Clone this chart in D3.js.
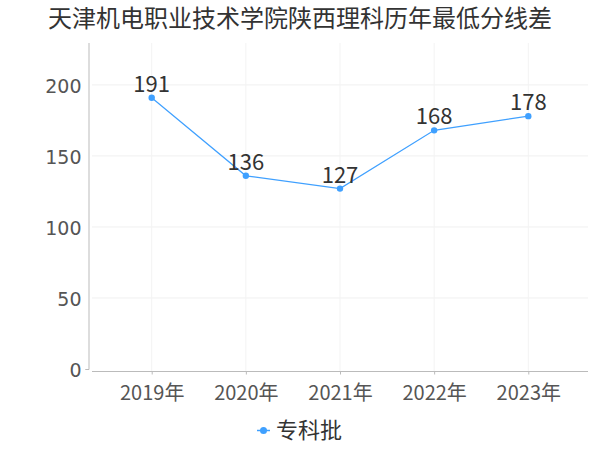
<!DOCTYPE html>
<html><head><meta charset="utf-8">
<script src="https://cdn.jsdelivr.net/npm/d3@7"></script>
<style>body{margin:0;background:#fff}svg{display:block}</style>
</head><body>
<svg id="c" width="600" height="450"></svg>
<script>
const title = "天津机电职业技术学院陕西理科历年最低分线差";
const categories = ["2019年","2020年","2021年","2022年","2023年"];
const seriesName = "专科批";
const values = [191,136,127,168,178];
const yTicks = [0,50,100,150,200];

const svg = d3.select("#c");
const color = "#3fa0ff";
const FF = "Noto Sans CJK SC, Noto Sans, sans-serif";
const FD = "DejaVu Sans, Verdana, sans-serif";
const x = d3.scalePoint().domain(categories).range([92,588]).padding(0.634);
const y = d3.scaleLinear().domain([0,229.5]).range([369,43]);

svg.append("text").attr("x",300).attr("y",27).attr("text-anchor","middle")
  .attr("font-family",FF).attr("font-size",24).attr("fill","#333").text(title);

// grid
const g = svg.append("g");
g.selectAll(".hg").data(yTicks.slice(1)).join("line")
  .attr("x1",92).attr("x2",588).attr("y1",d=>y(d)).attr("y2",d=>y(d))
  .attr("stroke","#f0f0f0");
g.selectAll(".vg").data(categories).join("line")
  .attr("x1",d=>x(d)).attr("x2",d=>x(d)).attr("y1",43).attr("y2",371)
  .attr("stroke","#f3f3f3");

// y axis
const ya = svg.append("g").attr("transform","translate(88.5,0)")
  .call(d3.axisLeft(y).tickValues(yTicks).tickSize(3).tickPadding(4));
ya.attr("font-family",FD).attr("font-size",19);
ya.select(".domain").attr("stroke","#bbb").attr("d","M-3,369.5H0.5V43");
ya.selectAll(".tick line").attr("stroke","#bbb").attr("x2",-3).attr("x1",0).filter(d=>d!==0).remove();
ya.selectAll("text").attr("fill","#555").attr("dy","0.4em");

// x axis
const xa = svg.append("g").attr("transform","translate(0,371.5)")
  .call(d3.axisBottom(x).tickSize(3));
xa.attr("font-family",FF).attr("font-size",20);
xa.select(".domain").attr("stroke","#bbb").attr("d","M92,0H588");
xa.selectAll(".tick line").attr("stroke","#bbb");
xa.selectAll("text").attr("fill","#555").attr("y",28).attr("dy",0);

// line
svg.append("path").datum(values)
  .attr("d",d3.line().x((d,i)=>x(categories[i])).y(d=>y(d)))
  .attr("fill","none").attr("stroke",color).attr("stroke-width",1.2);
svg.selectAll(".pt").data(values).join("circle")
  .attr("cx",(d,i)=>x(categories[i])).attr("cy",d=>y(d)).attr("r",3.2).attr("fill",color);
svg.selectAll(".lb").data(values).join("text")
  .attr("x",(d,i)=>x(categories[i])).attr("y",d=>y(d)-6)
  .attr("text-anchor","middle").attr("font-family",FF).attr("font-size",22).attr("fill","#333").text(d=>d);

// legend
svg.append("line").attr("x1",257).attr("x2",270).attr("y1",430.5).attr("y2",430.5).attr("stroke",color).attr("stroke-width",1.5);
svg.append("circle").attr("cx",263.5).attr("cy",430.5).attr("r",3.5).attr("fill",color);
svg.append("text").attr("x",276).attr("y",438).attr("font-family",FF).attr("font-size",22).attr("fill","#333").text(seriesName);
</script>
</body></html>
